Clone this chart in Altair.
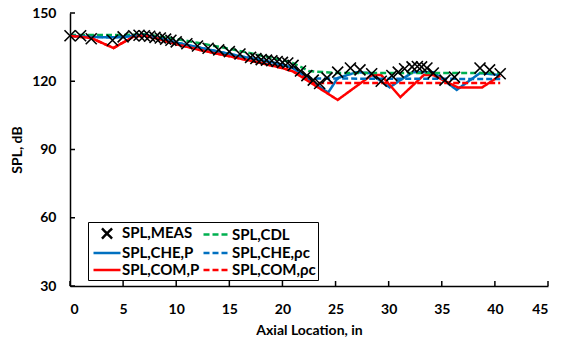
import altair as alt
import pandas as pd

# Series names, colours and dash patterns (legend fills column by column)
SERIES = ["SPL,MEAS", "SPL,CHE,P", "SPL,COM,P", "SPL,CDL", "SPL,CHE,ρc", "SPL,COM,ρc"]
COLORS = ["#000000", "#0070C0", "#FF0000", "#00B050", "#0070C0", "#FF0000"]
DASHES = [[1, 0], [1, 0], [1, 0], [6, 3], [6, 3], [6, 3]]
# custom symbol paths: an "x" marker and a long horizontal line for line series
X_PATH = "M-0.67,-0.67L0.67,0.67M-0.67,0.67L0.67,-0.67"
LINE_PATH = "M-1.8,0L1.8,0"
SHAPES = [X_PATH, LINE_PATH, LINE_PATH, LINE_PATH, LINE_PATH, LINE_PATH]

X_TICKS = [0, 5, 10, 15, 20, 25, 30, 35, 40, 45]
Y_TICKS = [30, 60, 90, 120, 150]

# Measured SPL
meas_x = [0, 1, 2, 4, 5, 6, 6.5, 7, 7.5, 8, 8.5, 9, 9.5, 10, 11, 12, 13, 14, 15, 16,
          17, 17.5, 18, 18.5, 19, 19.5, 20, 20.5, 21, 21.7, 22.3, 22.9, 23.5, 24.2,
          25.2, 26.4, 27.3, 28.4, 29.3, 30.3, 30.9, 31.5, 32.2, 32.7, 33.1, 33.6,
          34.2, 35.3, 36.2, 38.6, 39.5, 40.5]
meas_y = [140, 140, 138.7, 138, 139.5, 140, 140.2, 140, 139.8, 139.3, 139, 138.5, 138,
          137.3, 136.5, 135.5, 134.5, 133.8, 133, 132, 130.5, 130, 129.5, 129.3, 129,
          128.7, 128.3, 128, 127, 124.5, 122.5, 120.5, 119, 121.5,
          124, 125.8, 125, 123.3, 120, 122.5, 124, 125.5, 126.3, 126.5, 126.3, 125.8,
          123.6, 120.5, 121.8, 125.8, 125, 123.3]

# CDL prediction
cdl_x = [0, 5, 7, 10, 12, 15, 17, 20, 21, 22.5, 25, 40.5]
cdl_y = [140.3, 140.3, 140.7, 138.6, 136.9, 134.3, 132.3, 129.3, 128, 124.5, 123.6, 123.6]

# CHE, pressure-based
che_p_x = [0, 2, 4, 5, 6, 7, 8, 10, 12, 14, 16, 18, 20, 21, 22.6, 24.3, 25.2, 27, 28.2,
           30.1, 31.1, 32.3, 34.2, 36.4, 38.6, 40.5]
che_p_y = [140, 139.5, 139.3, 139.5, 140, 140.3, 139.5, 137, 135, 133, 131, 129.3, 127.3,
           125.8, 120.5, 115, 121.4, 124, 123.6, 117.3, 120.5, 124, 124, 116.2, 123.6, 122.7]

# CHE, rho*c based
che_rc_x = [0, 2, 4, 5, 6, 7, 8, 10, 12, 14, 16, 18, 20, 21, 22.6, 40.5]
che_rc_y = [140, 139.5, 139.3, 139.5, 140, 140.3, 139.5, 137, 135, 133, 131, 129.3, 127.3,
            125.8, 121.2, 121]

# COM, pressure-based
com_p_x = [0, 2, 4.1, 6, 7, 8, 10, 12, 14, 16, 18, 20, 21, 25.2, 28.4, 29.3, 31.1, 33.3,
           34.2, 36.5, 38.8, 40.5]
com_p_y = [140, 139, 134.6, 139.7, 140, 139, 136.3, 134, 132, 130, 128, 125.8, 124.3,
           111.8, 122.7, 122.7, 113, 122.7, 122.7, 117.3, 117.3, 122.5]

# COM, rho*c based
com_rc_x = [0, 2, 4.1, 6, 7, 8, 10, 12, 14, 16, 18, 20, 21, 21.7, 22.9, 40.5]
com_rc_y = [140, 139, 134.6, 139.7, 140, 139, 136.3, 134, 132, 130, 128, 125.8, 124.3,
            122.7, 119.2, 119.2]

line_sets = [
    ("SPL,CHE,P", che_p_x, che_p_y),
    ("SPL,COM,P", com_p_x, com_p_y),
    ("SPL,CDL", cdl_x, cdl_y),
    ("SPL,CHE,ρc", che_rc_x, che_rc_y),
    ("SPL,COM,ρc", com_rc_x, com_rc_y),
]
frames = []
for name, xs, ys in line_sets:
    frames.append(pd.DataFrame({"x": xs, "y": ys, "series": name}))
line_df = pd.concat(frames, ignore_index=True)
meas_df = pd.DataFrame({"x": meas_x, "y": meas_y, "series": "SPL,MEAS"})

FONT = "Lato"

x_enc = alt.X("x:Q", scale=alt.Scale(domain=[0, 45]),
              axis=alt.Axis(values=X_TICKS, title="Axial Location, in", labelPadding=16,
                            titlePadding=7))
y_enc = alt.Y("y:Q", scale=alt.Scale(domain=[30, 150]),
              axis=alt.Axis(values=Y_TICKS, title="SPL, dB", labelPadding=14,
                            titlePadding=7))
color_enc = alt.Color("series:N", scale=alt.Scale(domain=SERIES, range=COLORS), title=None)

lines = alt.Chart(line_df).mark_line(strokeWidth=2.5).encode(
    x=x_enc,
    y=y_enc,
    color=color_enc,
    strokeDash=alt.StrokeDash("series:N", scale=alt.Scale(domain=SERIES, range=DASHES),
                              title=None),
    order="x:Q",
)

points = alt.Chart(meas_df).mark_point(filled=False, strokeWidth=1.6, size=270, opacity=1).encode(
    x=x_enc,
    y=y_enc,
    color=color_enc,
    shape=alt.Shape("series:N", scale=alt.Scale(domain=SERIES, range=SHAPES), title=None),
)

# inward-pointing tick marks
y_ticks = alt.Chart(pd.DataFrame({"y": Y_TICKS})).mark_rule(color="black", strokeWidth=1.5).encode(
    y=y_enc, x=alt.value(0), x2=alt.value(5)
)
x_ticks = alt.Chart(pd.DataFrame({"x": X_TICKS})).mark_rule(color="black", strokeWidth=1.5).encode(
    x=x_enc, y=alt.value(273), y2=alt.value(268)
)

chart = (
    alt.layer(lines, points, y_ticks, x_ticks)
    .properties(
        width=478,
        height=273,
        autosize=alt.AutoSizeParams(type="none"),
        padding={"left": 70, "top": 13, "right": 20, "bottom": 57},
    )
    .configure_view(strokeWidth=0)
    .configure_axis(
        grid=False,
        ticks=False,
        tickSize=0,
        domainColor="black",
        domainWidth=1.5,
        labelFont=FONT,
        labelFontSize=14,
        labelFontWeight="bold",
        labelColor="black",
        titleFont=FONT,
        titleFontSize=14,
        titleFontWeight="bold",
        titleColor="black",
    )
    .configure_legend(
        orient="none",
        legendX=18,
        legendY=209,
        columns=2,
        direction="vertical",
        strokeColor="black",
        fillColor="white",
        padding=2,
        labelFont=FONT,
        labelFontSize=15,
        labelFontWeight="bold",
        labelColor="black",
        symbolSize=225,
        symbolStrokeWidth=2.5,
        symbolOffset=8,
        rowPadding=0,
        columnPadding=-10,
        labelOffset=6,
    )
)

chart.save("out.html", embed_options={"renderer": "svg", "actions": False})
